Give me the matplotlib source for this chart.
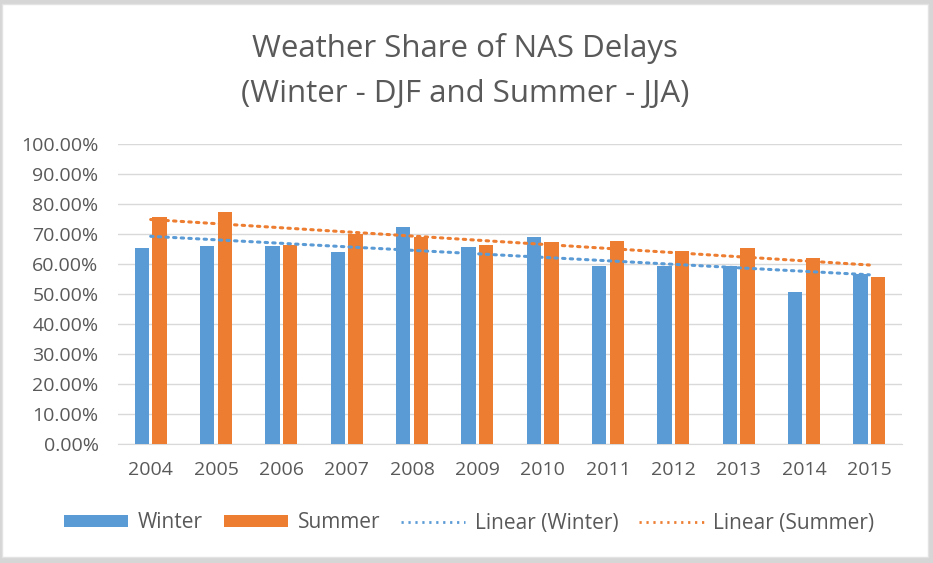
import numpy as np
import matplotlib
matplotlib.use("Agg")
import matplotlib.pyplot as plt
from matplotlib.patches import Rectangle, Patch
from matplotlib.lines import Line2D
from matplotlib.ticker import FuncFormatter, MultipleLocator

plt.rcParams['font.family'] = ['Open Sans', 'DejaVu Sans']

years = [2004, 2005, 2006, 2007, 2008, 2009, 2010, 2011, 2012, 2013, 2014, 2015]
winter = [65.2, 66.0, 66.0, 64.0, 72.2, 65.7, 68.9, 59.4, 59.4, 59.4, 50.8, 56.8]
summer = [75.6, 77.2, 66.4, 69.9, 69.1, 66.4, 67.3, 67.8, 64.4, 65.2, 61.9, 55.8]
title_lines = ["Weather Share of NAS Delays", "(Winter - DJF and Summer - JJA)"]

BLUE = "#5B9BD5"
ORANGE = "#ED7D31"
TXT = "#595959"
GRID = "#D9D9D9"

W, H = 933, 563
fig = plt.figure(figsize=(W / 100, H / 100), dpi=100)
fig.patch.set_facecolor("#D6D6D6")
fig.add_artist(Rectangle((2 / W, 6 / H), 926 / W, 553 / H, transform=fig.transFigure,
                         facecolor="white", edgecolor="#E3E3E3", lw=1, zorder=0))

ax = fig.add_axes([118 / W, 119 / H, 784 / W, 300 / H])
ax.set_facecolor("none")
x = np.arange(len(years))
bw = 0.215
ax.bar(x - 0.135, winter, width=bw, color=BLUE, zorder=3, label="Winter")
ax.bar(x + 0.135, summer, width=bw, color=ORANGE, zorder=3, label="Summer")

cw = np.polyfit(x, winter, 1)
cs = np.polyfit(x, summer, 1)
dots = (0, (0.8, 1.7))
ax.plot(x, np.polyval(cw, x), color=BLUE, lw=2.2, linestyle=dots,
        dash_capstyle="round", zorder=4)
ax.plot(x, np.polyval(cs, x), color=ORANGE, lw=2.2, linestyle=dots,
        dash_capstyle="round", zorder=4)

ax.set_xlim(-0.5, len(years) - 0.5)
ax.set_ylim(0, 100)
ax.yaxis.set_major_locator(MultipleLocator(10))
ax.yaxis.set_major_formatter(FuncFormatter(lambda v, p: f"{v:.2f}%"))
ax.set_xticks(x)
ax.set_xticklabels([str(y) for y in years])
ax.grid(axis="y", color=GRID, lw=1, zorder=0)
for s in ["top", "right", "left"]:
    ax.spines[s].set_visible(False)
ax.spines["bottom"].set_color(GRID)
ax.tick_params(axis="both", length=0, colors=TXT, labelsize=14)
ax.tick_params(axis="x", pad=12)
ax.tick_params(axis="y", pad=14)

fig.text(465 / W, 1 - 49 / H, title_lines[0], ha="center", va="center", fontsize=22.5, color=TXT)
fig.text(465 / W, 1 - 94 / H, title_lines[1], ha="center", va="center", fontsize=22.5, color=TXT)

handles = [
    Patch(facecolor=BLUE, label="Winter"),
    Patch(facecolor=ORANGE, label="Summer"),
    Line2D([0], [0], color=BLUE, lw=2.0, linestyle=dots, label="Linear (Winter)"),
    Line2D([0], [0], color=ORANGE, lw=2.0, linestyle=dots, label="Linear (Summer)"),
]
leg = fig.legend(handles=handles, loc="center", bbox_to_anchor=(469 / W, 1 - 523 / H), ncol=4,
                 frameon=False, fontsize=15, handlelength=3.1, handleheight=0.55,
                 columnspacing=1.0, handletextpad=0.45)
for t in leg.get_texts():
    t.set_color(TXT)

fig.savefig("out.png", dpi=100, facecolor=fig.get_facecolor())
